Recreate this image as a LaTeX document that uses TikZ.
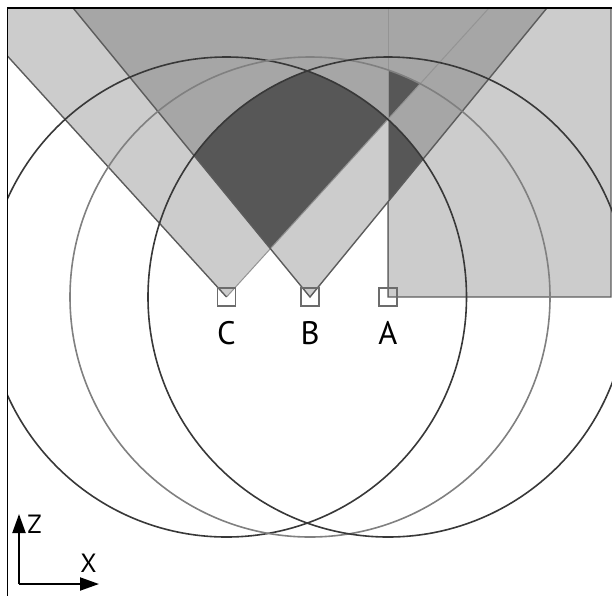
\documentclass[tikz,border=0pt]{standalone}
\usepackage{fontspec}
\setmainfont{PT Sans}
\usetikzlibrary{arrows.meta, positioning}

\definecolor{fovlight}{gray}{0.80}
\definecolor{fovmid}{gray}{0.65}
\definecolor{fovdark}{gray}{0.34}
\definecolor{edgegray}{gray}{0.36}
\definecolor{faintgray}{gray}{0.58}
\definecolor{ringdark}{gray}{0.22}
\definecolor{ringlight}{gray}{0.50}

\tikzset{
	sensor/.style={draw=gray!85!black, line width=0.035cm, minimum size=0.36cm, inner sep=0pt},
	sensorlab/.style={inner sep=0pt, font=\fontsize{18.5}{20}\selectfont},
	axlab/.style={inner sep=0pt, font=\fontsize{15}{17}\selectfont},
	fovedge/.style={draw=edgegray, line width=0.028cm},
	fovfaint/.style={draw=faintgray, line width=0.02cm},
	ring/.style={line width=0.032cm},
	axis/.style={line width=0.04cm, -{Triangle[length=0.38cm, width=0.26cm]}},
}

\begin{document}
\begin{tikzpicture}[x=0.02cm, y=-0.02cm]
	\useasboundingbox (0,0) rectangle (612,596);
	\coordinate (C) at (226.5,297);
	\coordinate (B) at (310,297);
	\coordinate (A) at (388,297);
	\coordinate (Cl) at (-36.2,8);
	\coordinate (Cr) at (489,8);
	\coordinate (Bl) at (73.1,8);
	\coordinate (Br) at (546.9,8);
	\coordinate (Atl) at (388,8);
	\coordinate (Atr) at (611,8);
	\coordinate (Abr) at (611,297);
	\coordinate (Ak) at (intersection of B--Br and A--Atl);
	\begin{scope}
		\clip (8,8) rectangle (612,596);
		\fill[fovlight] (C) -- (Cl) -- (Cr) -- cycle;
		\fill[fovlight] (B) -- (Bl) -- (Br) -- cycle;
		\fill[fovlight] (A) rectangle (Atr);
		\begin{scope}
			\clip (C) -- (Cl) -- (Cr) -- cycle;
			\fill[fovmid] (B) -- (Bl) -- (Br) -- cycle;
			\fill[fovmid] (A) rectangle (Atr);
		\end{scope}
		\begin{scope}
			\clip (B) -- (Bl) -- (Br) -- cycle;
			\fill[fovmid] (A) rectangle (Atr);
		\end{scope}
		\begin{scope}
			\clip (C) -- (Cl) -- (Cr) -- cycle;
			\clip (B) -- (Bl) -- (Br) -- cycle;
			\clip (A) circle[radius=240];
			\fill[fovdark] (C) circle[radius=240];
		\end{scope}
		\begin{scope}
			\clip (A) rectangle (Atr);
			\clip (C) -- (Cl) -- (Cr) -- cycle;
			\fill[fovdark] (B) circle[radius=240];
		\end{scope}
		\begin{scope}
			\clip (A) rectangle (Atr);
			\clip (B) -- (Bl) -- (Br) -- cycle;
			\fill[fovdark] (C) circle[radius=240];
		\end{scope}
		\draw[fovfaint] (C) -- (Cr);
		\draw[fovfaint] (Atl) -- (A);
		\draw[fovedge] (C) -- (Cl);
		\draw[fovedge] (Bl) -- (B) -- (Br);
		\draw[fovedge] (Ak) -- (A) -- (Abr) -- (Atr);
		\draw[ring, ringdark] (C) circle[radius=240];
		\draw[ring, ringlight] (B) circle[radius=240];
		\draw[ring, ringdark] (A) circle[radius=240];
	\end{scope}
	\node[sensor] (sqC) at (C) {};
	\node[sensor] (sqB) at (B) {};
	\node[sensor] (sqA) at (A) {};
	\node[sensorlab, below=0.28cm of sqC] (labC) {C};
	\node[sensorlab, below=0.28cm of sqB] (labB) {B};
	\node[sensorlab, below=0.28cm of sqA] (labA) {A};
	\coordinate (O) at (19,584);
	\coordinate (zend) at (19,514);
	\coordinate (xend) at (99,584);
	\draw[axis] (O) -- (zend);
	\draw[axis] (O) -- (xend);
	\node[axlab, anchor=west] (labZ) at (27,524.5) {Z};
	\node[axlab] (labX) at (88.5,563) {X};
	\draw[line width=0.04cm] (612,7.5) -- (7.5,7.5) -- (7.5,596);
\end{tikzpicture}
\end{document}
